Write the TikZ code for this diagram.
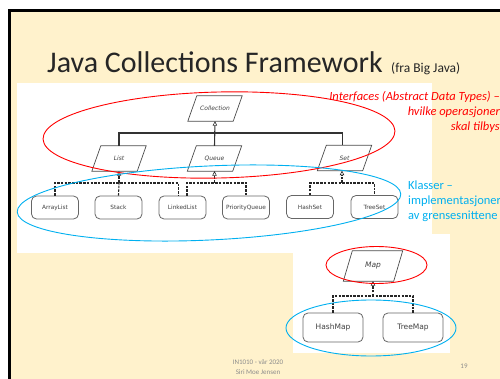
\documentclass[tikz,border=0pt]{standalone}
\usepackage{fontspec}
\setmainfont{Carlito}
\newfontfamily\diagfont{DejaVu Sans}
\usetikzlibrary{arrows.meta}
\definecolor{cream}{HTML}{FFF2CC}
\definecolor{redc}{HTML}{FF0000}
\definecolor{bluec}{HTML}{00B0F0}
\definecolor{footc}{HTML}{8C8C8C}
\definecolor{titlec}{HTML}{262626}
\tikzset{
  iface/.style={minimum width=45, minimum height=25, inner sep=0,
    font=\diagfont\itshape\fontsize{6}{7}\selectfont, text=black!75},
  paraline/.style={draw=black!70, line width=0.7},
  classbox/.style={draw=black!60, line width=0.8, rounded corners=5,
    minimum width=47, minimum height=23, inner sep=0,
    font=\diagfont\fontsize{5.8}{7}\selectfont, text=black!75},
  bigclass/.style={classbox, minimum width=60, minimum height=29,
    font=\diagfont\fontsize{7.5}{9}\selectfont},
  solidconn/.style={draw=black!80, line width=1.1},
  dashconn/.style={draw=black!85, line width=1.1, dash pattern=on 2.5pt off 1.2pt},
  opentip/.style={-{Triangle[open, length=4.5pt, width=4.5pt, line width=0.6pt]}},
  redell/.style={draw=redc, line width=0.9},
  blueell/.style={draw=bluec, line width=0.9},
}
\newcommand{\slantframe}[2]{\draw[paraline] ([xshift=#2]#1.north west) -- ([xshift=#2]#1.north east) -- ([xshift=-#2]#1.south east) -- ([xshift=-#2]#1.south west) -- cycle;}
\begin{document}
\begin{tikzpicture}[x=1pt, y=-1pt]
\useasboundingbox (0,0) rectangle (500,379);
\clip (0,0) rectangle (500,379);
% slide background
\fill[white] (0,0) rectangle (500,379);
\fill[black] (8,9) rectangle (500,379);
\fill[cream] (11,12) rectangle (500,379);
% title
\node[anchor=base west, inner sep=0, text=titlec, font=\fontsize{30}{36}\selectfont] (title) at (47,73) {Java Collections Framework};
\node[anchor=base west, inner sep=0, text=titlec, font=\fontsize{13.5}{16}\selectfont] (src) at (391,73) {(fra Big Java)};
% white picture areas
\fill[white] (17,83) rectangle (432,253);
\fill[white] (293,234) rectangle (450,353);
% interfaces
\node[iface] (collection) at (215,108.5) {Collection};
\node[iface] (list) at (119,158.5) {List};
\node[iface] (queue) at (214.5,158.5) {Queue};
\node[iface] (set) at (344.5,158) {Set};
\slantframe{collection}{4.5}
\slantframe{list}{4.5}
\slantframe{queue}{4.5}
\slantframe{set}{4.5}
% classes
\node[classbox] (arraylist) at (55,207.5) {ArrayList};
\node[classbox] (stack) at (118.5,207.5) {Stack};
\node[classbox] (linkedlist) at (182.5,207.5) {LinkedList};
\node[classbox] (pqueue) at (246,207.5) {PriorityQueue};
\node[classbox] (hashset) at (310,207) {HashSet};
\node[classbox] (treeset) at (374.5,207) {TreeSet};
% inheritance of interfaces
\coordinate (cbar) at (214.5,133);
\draw[solidconn] (list.north) |- (cbar) -| ([xshift=-2]set.north);
\draw[solidconn, opentip] (queue.north) -- (collection.south);
% implementations
\coordinate (lj) at (119,183);
\coordinate (qj) at (214.5,183);
\coordinate (sj) at (342,183);
\draw[dashconn] (arraylist.north) |- (lj) -| ([xshift=-4]linkedlist.north);
\draw[dashconn] (stack.north) -- (lj);
\draw[dashconn, opentip] (lj) -- (list.south);
\draw[dashconn] ([xshift=4.5]linkedlist.north) |- (qj) -| (pqueue.north);
\draw[dashconn, opentip] (qj) -- (queue.south);
\draw[dashconn] (hashset.north) |- (sj) -| (treeset.north);
\draw[dashconn, opentip] (sj) -- ([xshift=-2.5]set.south);
% ellipses
\draw[redell, rotate around={1.3:(219,135)}] (219,135) ellipse [x radius=176, y radius=43];
\draw[blueell, rotate around={2.7:(209,203)}] (209,203) ellipse [x radius=192, y radius=37];
% annotations
\node[anchor=north east, align=right, inner sep=0, text=redc, font=\itshape\fontsize{12.5}{15}\selectfont] (ifacetext) at (500,91.5) {Interfaces (Abstract Data Types) –\\hvilke operasjoner\\skal tilbys};
\node[anchor=north west, align=left, inner sep=0, text=bluec, font=\fontsize{12.5}{15}\selectfont] (classtext) at (408,180.5) {Klasser –\\implementasjoner\\av grensesnittene};
% map part
\node[iface, minimum width=50, minimum height=30, font=\diagfont\itshape\fontsize{7.5}{9}\selectfont] (map) at (373,266) {Map};
\slantframe{map}{4.5}
\node[bigclass] (hashmap) at (333,327.5) {HashMap};
\node[bigclass] (treemap) at (413,327.5) {TreeMap};
\coordinate (mj) at (373,296);
\draw[dashconn] (hashmap.north) |- (mj) -| (treemap.north);
\draw[dashconn, opentip] (mj) -- (map.south);
\draw[redell] (376.5,265) ellipse [x radius=50.5, y radius=18.5];
\draw[blueell] (371,328) ellipse [x radius=85, y radius=28];
% footer
\node[align=center, inner sep=0, text=footc, font=\fontsize{7}{9.5}\selectfont] (footer) at (258,367) {IN1010 - vår 2020\\Siri Moe Jensen};
\node[inner sep=0, text=footc, font=\fontsize{7}{8}\selectfont] (pageno) at (464,366) {19};
\end{tikzpicture}
\end{document}
